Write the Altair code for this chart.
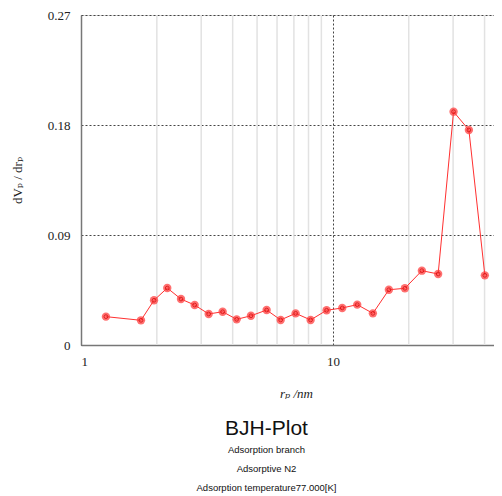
import altair as alt
import pandas as pd

# pore radius (nm) and dVp/drp
rp = [1.256, 1.730, 1.949, 2.200, 2.494, 2.826, 3.212, 3.650, 4.149, 4.727,
      5.457, 6.203, 7.112, 8.156, 9.44, 10.89, 12.49, 14.41, 16.68, 19.31,
      22.55, 26.17, 30.13, 34.66, 40.10]
dv = [0.0232, 0.0202, 0.0366, 0.0466, 0.0376, 0.0327, 0.0254, 0.0272, 0.0210, 0.0239,
      0.0286, 0.0205, 0.0259, 0.0205, 0.0284, 0.0303, 0.0330, 0.0259, 0.0452, 0.0464,
      0.0608, 0.0581, 0.1909, 0.1759, 0.0570]
minor_x = [2, 3, 4, 5, 6, 7, 8, 9, 20, 30, 40]
major_x = [1, 10]
y_ticks = [0, 0.09, 0.18, 0.27]

df = pd.DataFrame({"rp": rp, "dv": dv})
minor = pd.DataFrame({"m": minor_x})

serif = "Liberation Serif, Times New Roman, DejaVu Serif, serif"
xscale = alt.Scale(type="log", domain=[1, 43.6], nice=False)
yscale = alt.Scale(domain=[0, 0.27], nice=False, zero=True)

xaxis = alt.Axis(values=major_x, format="~g", title="rₚ /nm",
                 labelFont=serif, labelFontSize=13, labelColor="#222",
                 labelPadding=10, tickSize=0, domainColor="#777", domainWidth=1.5,
                 grid=True, gridColor="#444", gridDash=[2, 2], gridWidth=1,
                 titleFont=serif, titleFontSize=13, titleFontWeight="normal",
                 titleFontStyle="italic", titleColor="#222",
                 titleX=215, titleY=48, titleBaseline="middle")
yaxis = alt.Axis(values=y_ticks, format="~g", title="dVₚ / drₚ",
                 labelFont=serif, labelFontSize=13, labelColor="#222",
                 labelPadding=11, tickSize=0, domainColor="#777", domainWidth=1.5,
                 grid=True, gridColor="#444", gridDash=[2, 2], gridWidth=1,
                 titleFont=serif, titleFontSize=13, titleFontWeight="normal",
                 titleColor="#222", titleX=-64, titleY=165, titleAngle=-90,
                 titleBaseline="middle", titleAlign="center")

rules = alt.Chart(minor).mark_rule(color="#e2e2e2", strokeWidth=1.5).encode(
    x=alt.X("m:Q", scale=xscale, axis=xaxis),
)
base = alt.Chart(df).encode(
    x=alt.X("rp:Q", scale=xscale, axis=xaxis),
    y=alt.Y("dv:Q", scale=yscale, axis=yaxis),
)
line = base.mark_line(color="#ff3030", strokeWidth=1)
outer = base.mark_point(shape="circle", filled=True, size=70, color="#ff4040", opacity=0.75)
inner = base.mark_point(shape="circle", filled=False, size=14, color="#d00000", strokeWidth=1)

chart = alt.layer(rules, line, outer, inner).properties(
    width=413, height=330,
    autosize=alt.AutoSizeParams(type="none"),
    padding={"left": 73, "top": 7, "right": 0, "bottom": 150},
    title=alt.TitleParams(
        text="BJH-Plot",
        subtitle=["Adsorption branch", "Adsorptive N2", "Adsorption temperature77.000[K]"],
        orient="bottom", anchor="middle", dx=-21, offset=18,
        font="Liberation Sans, Arial, sans-serif", fontSize=21, fontWeight="normal", color="#111",
        subtitleFont="Liberation Sans, Arial, sans-serif", subtitleFontSize=9.5, subtitleColor="#111",
        subtitleLineHeight=19, subtitlePadding=6,
    ),
).configure_view(stroke=None).configure(background="white")

chart.save("out.html", embed_options={"renderer": "svg", "actions": False})
